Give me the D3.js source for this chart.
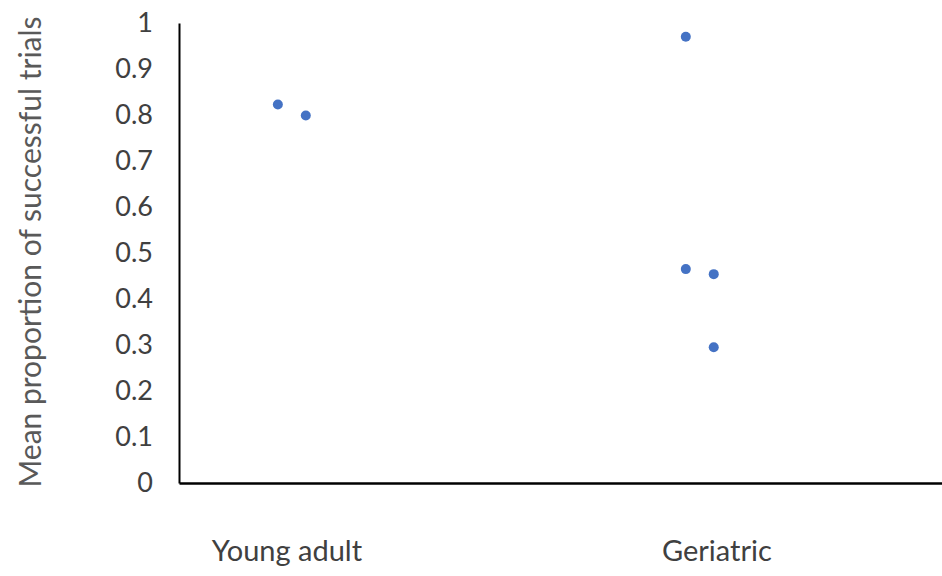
<!DOCTYPE html>
<html>
<head>
<meta charset="utf-8">
<script src="https://cdn.jsdelivr.net/npm/d3@7"></script>
<style>
  body { margin: 0; background: #fff; }
  svg { display: block; }
</style>
</head>
<body>
<svg id="chart" width="942" height="576"></svg>
<script>
// Data
const categories = ["Young adult", "Geriatric"];
const categoryPos = [1, 2];
const pointGroup = ["Young adult", "Young adult", "Geriatric", "Geriatric", "Geriatric", "Geriatric"];
const pointX = [0.98, 1.045, 1.929, 1.929, 1.994, 1.994];
const pointY = [0.823, 0.799, 0.970, 0.465, 0.454, 0.295];
const yTicks = [0, 0.1, 0.2, 0.3, 0.4, 0.5, 0.6, 0.7, 0.8, 0.9, 1];
const yTitle = "Mean proportion of successful trials";

const svg = d3.select("#chart");
const font = "Lato, 'Open Sans', sans-serif";

const x = d3.scaleLinear().domain([0.75, 2.525]).range([179, 942]);
const y = d3.scaleLinear().domain([0, 1]).range([483, 23]);

// Y axis
const yAxis = d3.axisLeft(y).tickValues(yTicks).tickSize(0).tickPadding(26)
  .tickFormat(d => d3.format("")(+d.toFixed(1)));
const gy = svg.append("g").attr("transform", "translate(179,0)").call(yAxis);
gy.select(".domain").attr("stroke", "#000").attr("stroke-width", 2);
gy.selectAll("text").attr("font-family", font).attr("font-size", 27).attr("fill", "#404040");

// X axis
const xAxis = d3.axisBottom(x).tickValues(categoryPos).tickSize(0).tickPadding(57)
  .tickFormat((d, i) => categories[i]);
const gx = svg.append("g").attr("transform", "translate(0,483)").call(xAxis);
gx.select(".domain").attr("stroke", "#000").attr("stroke-width", 2.5);
gx.selectAll("text").attr("font-family", font).attr("font-size", 29).attr("fill", "#404040");

// Y title
svg.append("text")
  .attr("transform", "translate(41,252) rotate(-90)")
  .attr("text-anchor", "middle")
  .attr("font-family", font)
  .attr("font-size", 30)
  .attr("fill", "#595959")
  .text(yTitle);

// Points
svg.append("g").selectAll("circle")
  .data(pointY.map((v, i) => ({ g: pointGroup[i], x: pointX[i], y: v })))
  .join("circle")
  .attr("cx", d => x(d.x))
  .attr("cy", d => y(d.y))
  .attr("r", 5)
  .attr("fill", "#4472C4");
</script>
</body>
</html>
